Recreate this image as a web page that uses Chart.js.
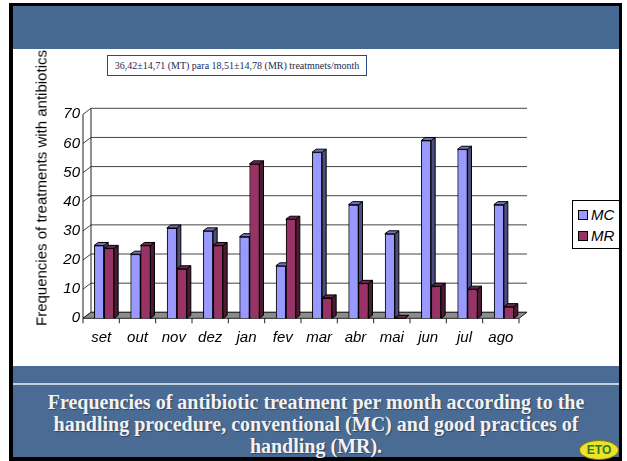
<!DOCTYPE html>
<html>
<head>
<meta charset="utf-8">
<script src="https://cdn.jsdelivr.net/npm/chart.js@4"></script>
<style>
  html,body{margin:0;padding:0;background:#fff;}
  #page{position:relative;width:627px;height:461px;overflow:hidden;background:#fff;}
  #frame{position:absolute;left:9px;top:3px;width:613px;height:458px;background:#000;}
  #head{position:absolute;left:13px;top:6px;width:606px;height:43px;background:#476a93;}
  #white{position:absolute;left:13px;top:49px;width:606px;height:317px;background:#fff;}
  #foot{position:absolute;left:13px;top:366px;width:606px;height:91px;background:#4a6b93;}
  #rule{position:absolute;left:13px;top:383px;width:606px;height:2px;background:#c3d0de;}
  #cap{position:absolute;left:13px;top:391px;width:606px;text-align:center;color:#f2f2f2;
       font-family:"Liberation Serif","DejaVu Serif",serif;font-weight:bold;font-size:20px;line-height:22px;
       text-shadow:1px 1px 1px rgba(0,0,0,0.35);}
  #logo{position:absolute;left:579px;top:440px;width:38px;height:18px;border-radius:50%;background:#eee22a;
        border:1px solid #7a7a20;color:#2f7a2a;font:bold 12px "Liberation Sans",Arial,sans-serif;
        text-align:center;line-height:18px;}
  canvas{position:absolute;left:0;top:0;}
  #ytitle{position:absolute;left:41px;top:188px;transform:translate(-50%,-50%) rotate(-90deg);
          white-space:nowrap;font:15px Arial,"Liberation Sans",sans-serif;color:#000;}
  #note{position:absolute;left:107px;top:55px;width:258px;height:19px;border:1px solid #2a4a80;
        font:10px "Liberation Serif","Times New Roman",serif;color:#1a2a55;line-height:19px;text-align:center;background:#fff;}
  #legend{position:absolute;left:572px;top:200px;width:60px;height:47px;border:1px solid #000;background:#fff;
          font:italic 15px Arial,"Liberation Sans",sans-serif;}
  .li{position:absolute;left:5px;height:16px;line-height:16px;}
  .sw{display:inline-block;width:8px;height:8px;border:1px solid #000;margin-right:3px;vertical-align:0px;}
  #rightcover{position:absolute;left:619px;top:3px;width:3px;height:458px;background:#000;}
  #rightwhite{position:absolute;left:622px;top:0;width:5px;height:461px;background:#fff;}
</style>
</head>
<body>
<div id="page">
  <div id="frame"></div>
  <div id="head"></div>
  <div id="white"></div>
  <div id="foot"></div>
  <div id="rule"></div>
  <div id="cap">Frequencies of antibiotic treatment per month according to the<br>handling procedure, conventional (MC) and good practices of<br>handling (MR).</div>
  <div id="logo">ETO</div>
  <canvas id="c" width="627" height="461"></canvas>
  <div id="ytitle">Frequencies of treatments with antibiotics</div>
  <div id="note">36,42±14,71 (MT) para 18,51±14,78 (MR) treatmnets/month</div>
  <div id="legend">
    <div class="li" style="top:6px"><span class="sw" style="background:#9999ff"></span>MC</div>
    <div class="li" style="top:27px"><span class="sw" style="background:#993366"></span>MR</div>
  </div>
  <div id="rightcover"></div>
  <div id="rightwhite"></div>
</div>
<script>
const months = ["set","out","nov","dez","jan","fev","mar","abr","mai","jun","jul","ago"];
const mcValues = [25,22,31,30,28,18,57,39,29,61,58,39];
const mrValues = [24,25,17,25,53,34,7,12,0,11,10,4];
const yTicks = [0,10,20,30,40,50,60,70];

const WALL_DX = 8, WALL_DY = -6;   // back wall offset
const BAR_DX = 4, BAR_DY = -3;     // bar depth
const SHIFT = -3;                  // front plane shift vs bar plane

function shade(hex, f){
  const n = parseInt(hex.slice(1),16);
  const r = Math.round(((n>>16)&255)*f), g = Math.round(((n>>8)&255)*f), b = Math.round((n&255)*f);
  return `rgb(${r},${g},${b})`;
}

const wallPlugin = {
  id: 'wall',
  beforeDatasetsDraw(chart){
    const {ctx, chartArea:a, scales:{y}} = chart;
    const L = a.left + SHIFT, R = a.right + SHIFT;
    const y0 = y.getPixelForValue(0);
    ctx.save();
    ctx.lineWidth = 1;
    yTicks.forEach(v => {
      const py = y.getPixelForValue(v);
      ctx.strokeStyle = '#444';
      ctx.beginPath();
      ctx.moveTo(L, py); ctx.lineTo(L + WALL_DX, py + WALL_DY);
      ctx.lineTo(R + WALL_DX, py + WALL_DY);
      ctx.stroke();
    });
    ctx.strokeStyle = '#222';
    ctx.beginPath();
    ctx.moveTo(L + WALL_DX, y0 + WALL_DY);
    ctx.lineTo(L + WALL_DX, y.getPixelForValue(70) + WALL_DY);
    ctx.stroke();
    ctx.fillStyle = '#8c8c8c';
    ctx.beginPath();
    ctx.moveTo(L, y0); ctx.lineTo(R, y0);
    ctx.lineTo(R + WALL_DX, y0 + WALL_DY); ctx.lineTo(L + WALL_DX, y0 + WALL_DY);
    ctx.closePath(); ctx.fill(); ctx.stroke();
    ctx.beginPath();
    ctx.moveTo(L, y0); ctx.lineTo(L, y.getPixelForValue(70));
    ctx.stroke();
    const step = (R - L) / months.length;
    for (let i = 0; i <= months.length; i++) {
      const px = L + i * step;
      ctx.beginPath(); ctx.moveTo(px, y0); ctx.lineTo(px, y0 + 5); ctx.stroke();
    }
    ctx.restore();
  },
  afterDatasetsDraw(chart){
    const {ctx} = chart;
    const metas = [chart.getDatasetMeta(0), chart.getDatasetMeta(1)];
    ctx.save();
    for (let i = 0; i < months.length; i++) {
      metas.forEach((meta, di) => {
        const el = meta.data[i];
        const base = chart.data.datasets[di].backgroundColor;
        el.draw(ctx);
        const p = el.getProps(['x','y','base','width'], true);
        const l = p.x - p.width/2, r = p.x + p.width/2, t = p.y, b = p.base;
        ctx.lineWidth = 1;
        ctx.strokeStyle = '#000';
        ctx.fillStyle = shade(base, 0.5);
        ctx.beginPath();
        ctx.moveTo(r, t); ctx.lineTo(r + BAR_DX, t + BAR_DY);
        ctx.lineTo(r + BAR_DX, b + BAR_DY); ctx.lineTo(r, b);
        ctx.closePath(); ctx.fill(); ctx.stroke();
        ctx.fillStyle = shade(base, 0.75);
        ctx.beginPath();
        ctx.moveTo(l, t); ctx.lineTo(l + BAR_DX, t + BAR_DY);
        ctx.lineTo(r + BAR_DX, t + BAR_DY); ctx.lineTo(r, t);
        ctx.closePath(); ctx.fill(); ctx.stroke();
      });
    }
    ctx.restore();
  }
};

new Chart(document.getElementById('c'), {
  type: 'bar',
  data: {
    labels: months,
    datasets: [
      {label: 'MC', data: mcValues, backgroundColor: '#9999ff', borderColor: '#000', borderWidth: 1},
      {label: 'MR', data: mrValues, backgroundColor: '#993366', borderColor: '#000', borderWidth: 1}
    ]
  },
  options: {
    responsive: false,
    animation: false,
    devicePixelRatio: 1,
    layout: {padding: {left: 0, right: 105, top: 114.3, bottom: 112.7}},
    plugins: {legend: {display: false}, tooltip: {enabled: false}},
    datasets: {bar: {categoryPercentage: 0.55, barPercentage: 1.0}},
    scales: {
      x: {
        grid: {display: false, drawTicks: false},
        border: {display: false},
        ticks: {color: '#000', font: {family: 'Arial', size: 15, style: 'italic'}, padding: 11, labelOffset: SHIFT, maxRotation: 0},
        afterFit(s){ s.height = 30; }
      },
      y: {
        min: 0, max: 70,
        grid: {display: false, drawTicks: false},
        border: {display: false},
        ticks: {stepSize: 10, color: '#000', font: {family: 'Arial', size: 15, style: 'italic'}, padding: 6},
        afterFit(s){ s.width = 86; }
      }
    }
  },
  plugins: [wallPlugin]
});
</script>
</body>
</html>
